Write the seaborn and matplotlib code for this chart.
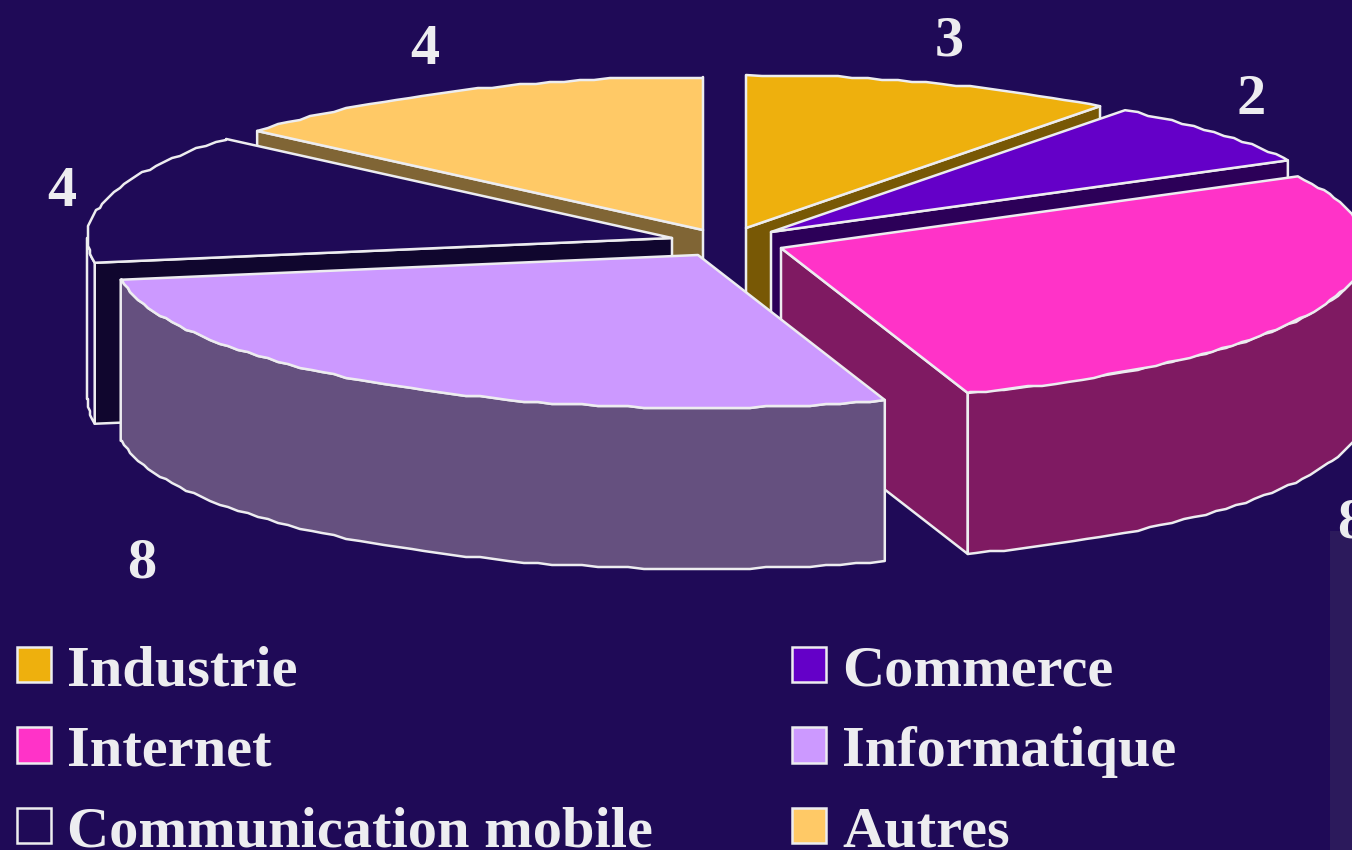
# Exploded 3D pie of sectors, drawn by hand since matplotlib has no 3D pie
import numpy as np
import matplotlib
matplotlib.use('Agg')
import matplotlib.pyplot as plt
from matplotlib.patches import Patch, Polygon, Rectangle
import seaborn as sns

# Data
sectors = ['Industrie', 'Commerce', 'Internet', 'Informatique', 'Communication mobile', 'Autres']
values = [3, 2, 8, 8, 4, 4]
top_colors = ['#EEB00D', '#6400C8', '#FF33C8', '#CC99FF', '#1F0A57', '#FFC966']
cut_colors = ['#785805', '#2C0058', '#7F1A62', '#65507F', '#10062E', '#806535']
wall_colors = ['#785805', '#2C0058', '#7F1A62', '#65507F', '#1F0A57', '#806535']

# Layout, in pixels of the 1352x850 picture
BG = '#1F0A57'
EDGE = '#EDEDF0'
RX, RY = 585, 153
DEPTH = 161
apex = [(746, 228), (771, 232), (781, 248), (698, 255), (672, 238), (703, 230)]
label_offset = [(16, -42), (34, -33), (27, 219), (-255, 177), (-47, -5), (-33, -41)]
draw_order = [5, 0, 1, 4, 2, 3]

sns.set_theme(style='white', rc={'figure.facecolor': BG, 'axes.facecolor': BG})
plt.rcParams['font.family'] = ['Liberation Serif', 'DejaVu Sans']

fig = plt.figure(figsize=(13.52, 8.5), dpi=100)
ax = fig.add_axes([0, 0, 1, 1])
ax.set_xlim(0, 1352)
ax.set_ylim(850, 0)
ax.axis('off')

# Faint strip in the bottom right corner
ax.add_patch(Rectangle((1330, 531), 22, 319, facecolor='#2C1A5C', edgecolor='none', zorder=0))


def rim(i, start, end):
    # Points on the ellipse, snapped a little to get the stepped outline of the original
    th = np.radians(np.arange(start, end, 1.5))
    th = np.append(th, np.radians(end))
    x = apex[i][0] + RX * np.sin(th)
    y = apex[i][1] - RY * np.cos(th)
    x[1:-1] = np.round(x[1:-1] / 2) * 2
    y[1:-1] = np.round(y[1:-1] / 2) * 2
    return np.column_stack([x, y])


def face(points, color, z):
    ax.add_patch(Polygon(points, closed=True, facecolor=color, edgecolor=EDGE,
                         linewidth=1.8, joinstyle='round', zorder=z))


angles = np.cumsum([0] + values) / np.sum(values) * 360
drop = np.array([0, DEPTH])

for z, i in enumerate(draw_order):
    start, end = angles[i], angles[i + 1]
    zorder = 2 + z
    edge = rim(i, start, end)
    tip = np.array(apex[i], dtype=float)

    # Cut faces, only the ones turned towards the viewer
    if np.sin(np.radians(start)) < -1e-6:
        face([tip, edge[0], edge[0] + drop, tip + drop], cut_colors[i], zorder)
    if np.sin(np.radians(end)) > 1e-6:
        face([tip, edge[-1], edge[-1] + drop, tip + drop], cut_colors[i], zorder)

    # Outer wall, only where the rim faces the viewer
    front = rim(i, max(start, 90), min(end, 270)) if end > 90 and start < 270 else None
    if front is not None:
        face(np.vstack([front, (front + drop)[::-1]]), wall_colors[i], zorder)

    # Top
    face(np.vstack([tip, edge]), top_colors[i], zorder)

# Value labels
for i, v in enumerate(values):
    mid = np.radians((angles[i] + angles[i + 1]) / 2)
    x = apex[i][0] + RX * np.sin(mid) + label_offset[i][0]
    y = apex[i][1] - RY * np.cos(mid) + label_offset[i][1]
    ax.text(x, y, str(v), color=EDGE, fontsize=42, fontweight='bold',
            ha='center', va='center', zorder=20)

# Legend, two columns, filled row by row
palette = sns.color_palette(top_colors)
handles = [Patch(facecolor=palette[i], edgecolor=EDGE, linewidth=1.8) for i in range(len(sectors))]
order = [0, 2, 4, 1, 3, 5]
ax.legend([handles[i] for i in order], [sectors[i] for i in order],
          ncol=2, frameon=False, loc='upper left', bbox_to_anchor=(17, 645),
          bbox_transform=ax.transData, borderpad=0, borderaxespad=0,
          handlelength=0.58, handleheight=0.55, handletextpad=0.27,
          labelspacing=0.49, columnspacing=2.4,
          prop={'family': 'Liberation Serif', 'weight': 'bold', 'size': 42},
          labelcolor=EDGE)

fig.savefig('out.png', dpi=100, facecolor=BG)
